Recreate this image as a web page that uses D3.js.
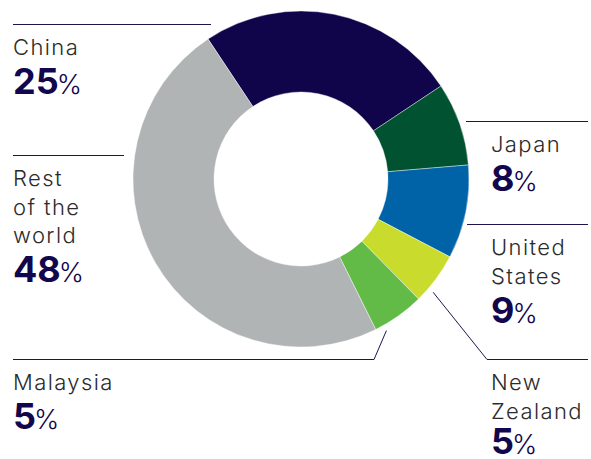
<!DOCTYPE html>
<html>
<head>
<meta charset="utf-8">
<script src="https://cdn.jsdelivr.net/npm/d3@7"></script>
<style>
  body { margin: 0; background: #fff; }
  svg { display: block; }
  .name { font-family: Inter, "Open Sans", sans-serif; font-weight: 300; font-size: 22px; fill: #2b2b2b; letter-spacing: 1.4px; }
  .num { font-family: Inter, "Open Sans", sans-serif; fill: #12064d; }
</style>
</head>
<body>
<svg width="591" height="459"></svg>
<script>
// share of total, per destination (clockwise from China)
var countries = ["China", "Japan", "United States", "New Zealand", "Malaysia", "Rest of the world"];
var shares = [25, 8, 9, 5, 5, 48];
var colours = ["#10054a", "#005230", "#0063a7", "#c9dc2e", "#62bb46", "#b1b4b5"];
// how each label is broken into lines
var labelLines = [["China"], ["Japan"], ["United", "States"], ["New", "Zealand"], ["Malaysia"], ["Rest", "of the", "world"]];

// layout for labels: x of text, y of the rule above, rule x-range, leader bend
var labelPos = [
  {x: 13, rule: 24.5, x0: 13, x1: 211},
  {x: 491, rule: 121.5, x0: 466, x1: 588},
  {x: 491, rule: 224.5, x0: 467, x1: 588},
  {x: 491, rule: 359.5, x0: 487, x1: 588, leader: 4, nudge: -4},
  {x: 13, rule: 359.5, x0: 13, x1: 374, leader: 6},
  {x: 13, rule: 155.5, x0: 13, x1: 124}
];

var svg = d3.select("svg");
var cx = 301, cy = 179, R = 168, r = 87;
var start = -33.6 * Math.PI / 180;

var pie = d3.pie().sort(null).value(function(d) { return d; })
    .startAngle(start).endAngle(start + 2 * Math.PI);
var arcs = pie(shares);
var arc = d3.arc().innerRadius(r).outerRadius(R);

var g = svg.append("g").attr("transform", "translate(" + cx + "," + cy + ")");
g.selectAll("path")
    .data(arcs)
    .enter().append("path")
    .attr("d", arc)
    .attr("fill", function(d, i) { return colours[i]; })
    .attr("stroke", "#fff")
    .attr("stroke-width", 0.4);

var lineCol = "#1c1552";
var lineH = 28.5;

arcs.forEach(function(a, i) {
    var p = labelPos[i];
    var lab = svg.append("g");
    lab.append("line")
        .attr("x1", p.x0).attr("x2", p.x1)
        .attr("y1", p.rule).attr("y2", p.rule)
        .attr("stroke", lineCol).attr("stroke-width", 1);
    if (p.leader) {
        // short leader from just outside the ring to the end of the rule
        var mid = (a.startAngle + a.endAngle) / 2 + p.leader * Math.PI / 180;
        var pt = d3.pointRadial(mid, R + 6);
        var ex = (p.x0 == 13) ? p.x1 : p.x0;
        lab.append("line")
            .attr("x1", cx + pt[0]).attr("y1", cy + pt[1])
            .attr("x2", ex).attr("y2", p.rule)
            .attr("stroke", lineCol).attr("stroke-width", 1);
    }
    var lines = labelLines[i];
    var base = p.rule + 30.5;
    lines.forEach(function(t, k) {
        lab.append("text").attr("class", "name")
            .attr("x", p.x).attr("y", base + k * lineH)
            .text(t);
    });
    var t = lab.append("text").attr("class", "num")
        .attr("x", p.x).attr("y", base + (lines.length - 1) * lineH + 39 + (p.nudge || 0));
    t.append("tspan").attr("font-weight", 700).attr("font-size", 36).text(shares[i]);
    t.append("tspan").attr("font-weight", 300).attr("font-size", 27).attr("dx", -2).text("%");
});
</script>
</body>
</html>
